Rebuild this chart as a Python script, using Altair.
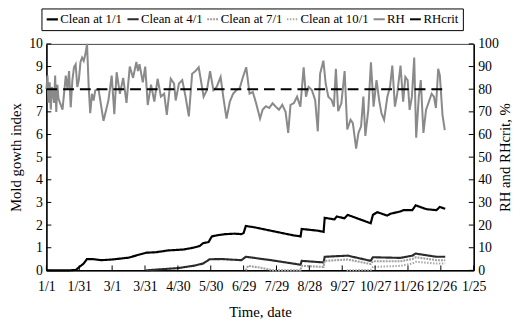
import altair as alt
import pandas as pd

# ---------------- data ----------------
tick_days = [0, 30, 60, 90, 120, 150, 180, 210, 240, 270, 300, 330, 360, 390]
tick_labels = ["1/1", "1/31", "3/1", "3/31", "4/30", "5/30", "6/29", "7/29",
               "8/28", "9/27", "10/27", "11/26", "12/26", "1/25"]
mold_ticks = [0, 1, 2, 3, 4, 5, 6, 7, 8, 9, 10]
rh_ticks = [0, 10, 20, 30, 40, 50, 60, 70, 80, 90, 100]

series = ["Clean at 1/1", "Clean at 4/1", "Clean at 7/1", "Clean at 10/1", "RH", "RHcrit"]

clean_0101_day = [0, 20, 27, 30, 34, 37, 42, 50, 60, 75, 85, 91, 100, 111, 125, 134, 140, 143,
                  148, 151, 156, 163, 172, 178, 180, 182, 190, 210, 225, 232, 233, 248, 253,
                  254, 263, 265, 272, 275, 296, 298, 302, 311, 314, 323, 326, 334, 337, 347,
                  356, 359, 364]
clean_0101_val = [0, 0, 0.02, 0.15, 0.3, 0.5, 0.5, 0.45, 0.48, 0.56, 0.7, 0.78, 0.8, 0.88, 0.92,
                  1.0, 1.08, 1.2, 1.25, 1.5, 1.55, 1.6, 1.62, 1.6, 1.65, 1.96, 1.9, 1.7, 1.55,
                  1.5, 1.83, 1.75, 1.7, 2.32, 2.25, 2.38, 2.3, 2.45, 2.08, 2.45, 2.57, 2.42,
                  2.5, 2.6, 2.66, 2.66, 2.87, 2.7, 2.66, 2.8, 2.72]

clean_0401_day = [91, 105, 120, 134, 143, 149, 160, 178, 182, 205, 232, 233, 253, 254, 275,
                  296, 298, 323, 334, 337, 356, 364]
clean_0401_val = [0, 0.05, 0.1, 0.2, 0.3, 0.49, 0.5, 0.45, 0.6, 0.45, 0.25, 0.42, 0.35, 0.6,
                  0.65, 0.42, 0.58, 0.55, 0.65, 0.74, 0.6, 0.6]

clean_0701_day = [182, 184, 195, 207, 232, 233, 253, 254, 275, 296, 298, 323, 334, 337, 356, 364]
clean_0701_val = [0, 0.2, 0.12, 0, 0, 0.2, 0.15, 0.42, 0.48, 0.28, 0.4, 0.4, 0.5, 0.58, 0.45, 0.45]

clean_1001_day = [274, 296, 298, 323, 334, 337, 356, 364]
clean_1001_val = [0, 0.02, 0.15, 0.2, 0.3, 0.38, 0.3, 0.3]

rh_day = [0, 1, 2, 3, 4, 5, 6, 7, 8, 9, 10, 11, 12, 14.7, 17.7, 19.2, 20.7, 22.2, 23.7, 25.2,
          26.7, 28.2, 29.6, 31.1, 32.6, 34.1, 35.6, 37.1, 38.6, 40, 41.6, 43.1, 44.6, 47.6,
          52.1, 56.6, 59.6, 62, 64.1, 67.1, 70.1, 73.1, 76.1, 79.1, 82.1, 83.6, 85, 88, 90.2,
          92.5, 95.5, 98.5, 101.5, 104.5, 107.5, 109.9, 113.5, 116.5, 118, 121, 124, 127, 130,
          133, 136, 139, 140.5, 143.5, 146.5, 149.4, 152.4, 155.4, 159, 161.4, 164.4, 167.4,
          170.4, 173.4, 176.4, 179.4, 182.4, 185.4, 188.4, 191.4, 195, 197.4, 200.4, 203.4,
          206.4, 209.3, 212.3, 215.3, 218.3, 220.7, 222.8, 225.8, 228.8, 231.8, 234.8, 236.9,
          239.3, 242.3, 245.3, 247.7, 249.8, 252.8, 254.9, 257.3, 260.3, 262.4, 264.2, 266.3,
          269.2, 272.2, 274.6, 277.6, 279.7, 282.7, 284.8, 287.2, 289.3, 291.1, 293.8, 296.2,
          298.6, 301.3, 303.7, 305.8, 308.2, 311.2, 313.6, 315.7, 318.1, 320.2, 323.2, 325.6,
          327.6, 329.7, 331.5, 333.6, 335.7, 337.5, 339.9, 341.7, 344.1, 346.5, 348.6, 351.6,
          353.7, 355.5, 357.6, 359.1, 361.5, 363.6]
rh_val = [80, 86, 74, 83, 71, 81, 78, 74, 86, 70, 82, 76, 74.5, 71, 86, 80, 88, 72, 84, 89.7,
          91, 81, 84, 92, 94, 92.5, 95.5, 100, 81, 69.4, 78, 75, 79.5, 80, 66, 75, 86, 69, 87.5,
          78, 85, 74, 90, 85, 92, 88, 91, 83, 90, 73, 82, 74.5, 84.6, 76.7, 78, 68.7, 84.6, 82.5,
          75, 82.5, 84, 76.7, 68, 86.8, 88, 89.7, 85.4, 76.7, 79.6, 88, 79.6, 81, 85.4, 76.7, 67,
          74.5, 78, 79.6, 80.4, 85.4, 89.7, 78, 78.8, 73.8, 67, 71, 72.5, 71.7, 73.8, 72.3, 70.9,
          73.1, 70, 60.7, 73.1, 73.8, 76.7, 72.3, 89.7, 76.7, 81, 79.6, 75.2, 61.4, 86.8, 92.6,
          82.5, 76.7, 75.2, 72.3, 89, 70.3, 73.8, 88, 62.2, 66.5, 65, 53.8, 60.7, 63.6, 76.7,
          59.4, 70.9, 91.9, 72.3, 84, 75.2, 69.4, 66.5, 76.7, 81, 90.4, 72.3, 78, 90.4, 74.5,
          85.4, 84, 70.9, 76.7, 94, 58.6, 76.7, 84, 60.7, 70.9, 73.8, 78, 76.7, 71.7, 89, 86.1,
          68.7, 61.9]

rhcrit_day = [0, 365]
rhcrit_val = [80, 80]

# ---------------- frames ----------------
def frame(days, vals, name):
    return pd.DataFrame({"day": days, "value": vals, "series": name})

mold_df = pd.concat([
    frame(clean_0101_day, clean_0101_val, series[0]),
    frame(clean_0401_day, clean_0401_val, series[1]),
    frame(clean_0701_day, clean_0701_val, series[2]),
    frame(clean_1001_day, clean_1001_val, series[3]),
])
rh_df = pd.concat([
    frame(rh_day, rh_val, series[4]),
    frame(rhcrit_day, rhcrit_val, series[5]),
])
xt_df = pd.DataFrame({"day": tick_days})
mt_df = pd.DataFrame({"value": mold_ticks})
rt_df = pd.DataFrame({"value": rh_ticks})

W, H = 434, 230
FONT = "Liberation Serif"

colors = ["#000000", "#2b2b2b", "#a0a0a0", "#a8a8a8", "#8a8a8a", "#000000"]
dashes = [[1, 0], [1, 0], [2, 1], [1.5, 1.5], [1, 0], [11, 6]]
widths = [2.2, 2.0, 2.6, 1.5, 0.9, 2.5]

leg = alt.Legend(title=None, orient="none", legendX=-5, legendY=-36, direction="horizontal",
                 columns=6, strokeColor="black", padding=4, symbolType="stroke",
                 symbolSize=130, labelFont=FONT, labelFontSize=13, labelColor="black",
                 labelFontWeight="normal", columnPadding=0, labelOffset=1)

enc_series = dict(
    color=alt.Color("series:N", scale=alt.Scale(domain=series, range=colors), legend=leg),
    strokeDash=alt.StrokeDash("series:N", scale=alt.Scale(domain=series, range=dashes), legend=leg),
    strokeWidth=alt.StrokeWidth("series:N", scale=alt.Scale(domain=series, range=widths), legend=leg),
)

ax_font = dict(labelFont=FONT, labelFontSize=14, labelColor="black", titleFont=FONT,
               titleFontSize=15, titleFontWeight="normal", titleColor="black",
               grid=False, domainColor="black", domainWidth=1.5, ticks=False)

x_scale = alt.Scale(domain=[0, 390], nice=False, zero=False)
x_axis = alt.Axis(values=tick_days, title="Time, date",
                  labelExpr="%s[round(datum.value/30)]" % str(tick_labels),
                  labelPadding=9, titlePadding=12, labelFlush=False, **ax_font)
m_scale = alt.Scale(domain=[0, 10], nice=False)
m_axis = alt.Axis(values=mold_ticks, title="Mold gowth index", orient="left",
                  labelPadding=4, titlePadding=5, **ax_font)
r_scale = alt.Scale(domain=[0, 100], nice=False)
r_axis = alt.Axis(values=rh_ticks, title="RH and RHcrit, %", orient="right",
                  labelPadding=4, titlePadding=14, titleAngle=270, **ax_font)

def X():
    return alt.X("day:Q", scale=x_scale, axis=x_axis)

mold_lines = alt.Chart(mold_df).mark_line().encode(
    x=X(), y=alt.Y("value:Q", scale=m_scale, axis=m_axis), **enc_series)
x_ticks = alt.Chart(xt_df).mark_rule(color="black", strokeWidth=1).encode(
    x=X(), y=alt.value(H), y2=alt.value(H - 5))
m_ticks = alt.Chart(mt_df).mark_rule(color="black", strokeWidth=1).encode(
    y=alt.Y("value:Q", scale=m_scale, axis=m_axis), x=alt.value(0), x2=alt.value(5))
left = alt.layer(mold_lines, x_ticks, m_ticks)

rh_lines = alt.Chart(rh_df).mark_line().encode(
    x=X(), y=alt.Y("value:Q", scale=r_scale, axis=r_axis), **enc_series)
r_ticks = alt.Chart(rt_df).mark_rule(color="black", strokeWidth=1).encode(
    y=alt.Y("value:Q", scale=r_scale, axis=r_axis), x=alt.value(W), x2=alt.value(W - 5))
right = alt.layer(rh_lines, r_ticks)

chart = alt.layer(left, right).resolve_scale(y="independent").properties(
    width=W, height=H,
    autosize=alt.AutoSizeParams(type="none"),
    padding={"left": 39, "top": 34, "right": 46, "bottom": 52},
    background="white",
).configure(font=FONT).configure_axis(**ax_font).configure_legend(
    labelFont=FONT, labelFontSize=13, labelColor="black", labelFontWeight="normal"
).configure_view(stroke="#444444", strokeWidth=1)

chart.save("out.html", embed_options={"renderer": "svg", "actions": False})
